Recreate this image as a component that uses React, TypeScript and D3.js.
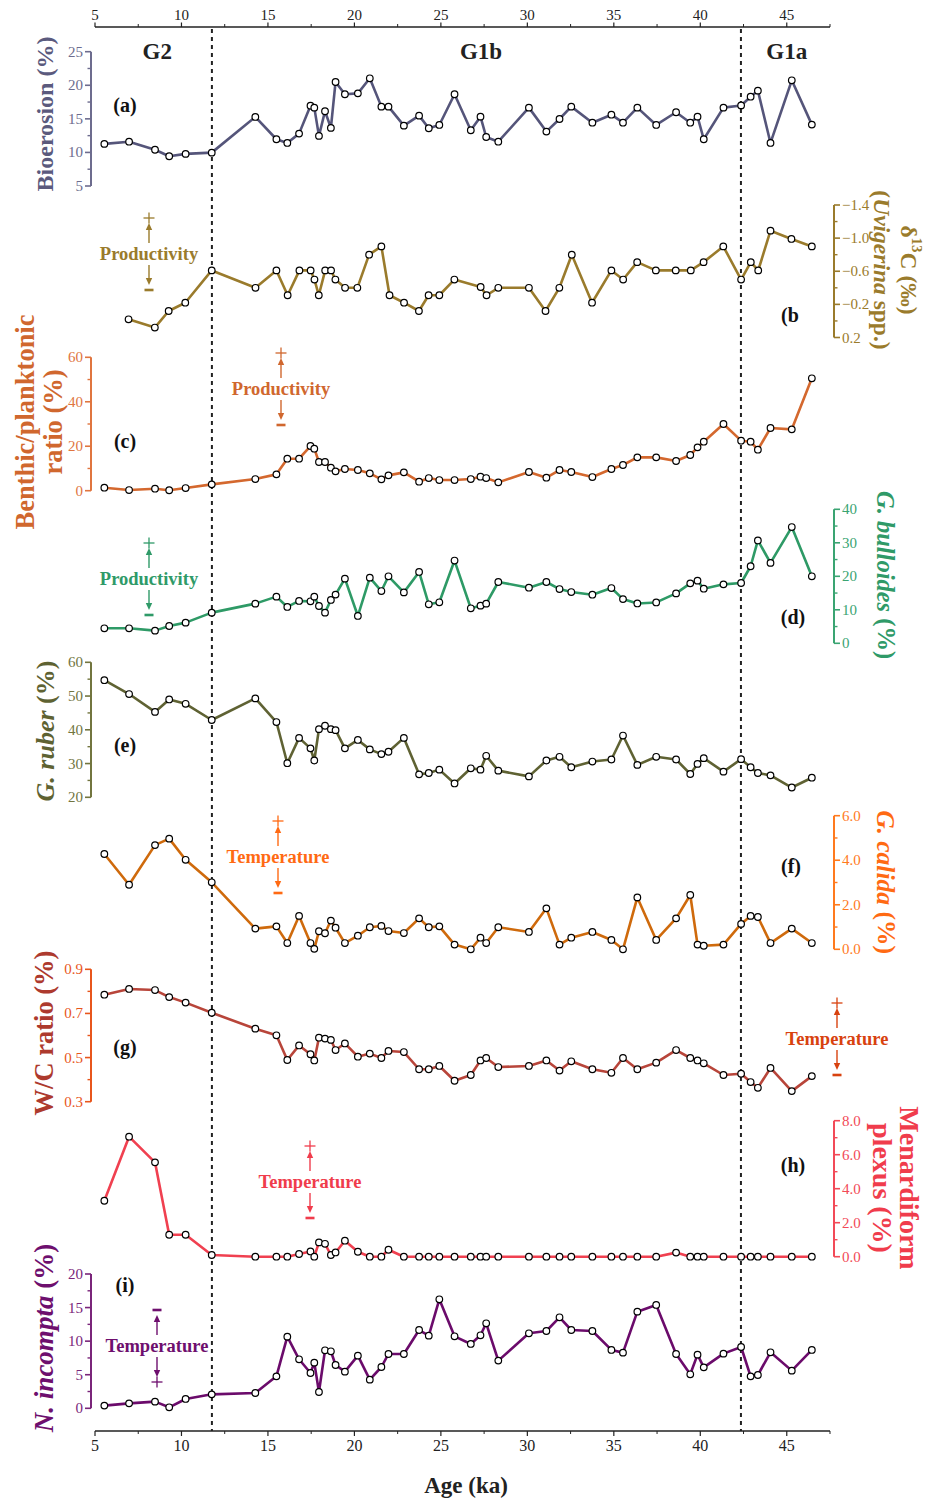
import React from 'react';
import * as d3 from 'd3';

// ---------------- DATA ----------------
// shared sample ages (ka) for panels a, c, d, e, f, g, h, i
const ages = [5.54, 6.97, 8.47, 9.29, 10.24, 11.75, 14.27, 15.49, 16.12, 16.8, 17.46, 17.68, 17.95, 18.3, 18.64, 18.91, 19.45, 20.2, 20.89, 21.56, 21.97, 22.86, 23.74, 24.3, 24.91, 25.79, 26.73, 27.29, 27.62, 28.32, 30.09, 31.1, 31.86, 32.54, 33.76, 34.86, 35.53, 36.36, 37.45, 38.6, 39.42, 39.84, 40.2, 41.34, 42.36, 42.91, 43.33, 44.06, 45.29, 46.45];
// sample ages (ka) for the d13C record
const agesB = [6.94, 8.46, 9.26, 10.22, 11.75, 14.28, 15.49, 16.14, 16.82, 17.47, 17.69, 17.94, 18.31, 18.65, 18.9, 19.46, 20.17, 20.85, 21.56, 22.03, 22.87, 23.73, 24.29, 24.91, 25.78, 27.3, 27.64, 28.32, 30.09, 31.05, 31.85, 32.57, 33.74, 34.86, 35.54, 36.35, 37.43, 38.58, 39.45, 40.19, 41.33, 42.36, 42.92, 43.35, 44.06, 45.27, 46.45];

const bioerosion = [11.27, 11.6, 10.4, 9.43, 9.78, 9.97, 15.28, 11.96, 11.41, 12.8, 16.96, 16.67, 12.46, 16.13, 13.65, 20.49, 18.66, 18.8, 21.04, 16.82, 16.82, 13.99, 15.48, 13.6, 14.09, 18.66, 13.3, 15.33, 12.3, 11.6, 16.67, 13.1, 14.98, 16.82, 14.43, 15.62, 14.43, 16.67, 14.09, 15.98, 14.43, 15.33, 11.96, 16.67, 17.0, 18.3, 19.2, 11.41, 20.74, 14.14];
const d13C = [-0.02, 0.08, -0.12, -0.22, -0.61, -0.40, -0.61, -0.31, -0.61, -0.61, -0.50, -0.31, -0.61, -0.61, -0.50, -0.40, -0.40, -0.80, -0.90, -0.31, -0.22, -0.12, -0.31, -0.31, -0.50, -0.41, -0.31, -0.40, -0.40, -0.12, -0.40, -0.80, -0.22, -0.61, -0.50, -0.71, -0.61, -0.61, -0.61, -0.71, -0.90, -0.50, -0.71, -0.61, -1.09, -0.99, -0.90];
const benthicPlanktonic = [1.35, 0.3, 0.9, 0.2, 1.2, 2.85, 5.25, 7.35, 14.4, 14.4, 20.1, 18.9, 12.9, 12.9, 10.35, 8.7, 9.75, 9.3, 7.8, 5.1, 6.9, 8.25, 4.05, 5.7, 4.8, 4.8, 5.25, 6.3, 5.7, 3.75, 8.4, 5.85, 9.3, 8.4, 6.15, 9.75, 11.55, 15.0, 15.0, 13.35, 16.05, 19.5, 22.05, 30.0, 22.5, 22.05, 18.45, 28.2, 27.6, 50.55];
const gBulloides = [4.48, 4.48, 3.78, 5.17, 6.17, 9.15, 11.84, 13.93, 10.85, 12.64, 12.54, 13.93, 11.14, 9.15, 12.94, 14.53, 19.3, 8.16, 19.6, 15.6, 20.0, 15.2, 21.3, 11.64, 12.24, 24.7, 10.45, 11.24, 11.84, 18.3, 16.6, 18.3, 16.2, 15.3, 14.5, 16.5, 13.2, 11.9, 12.2, 14.9, 17.9, 18.7, 16.3, 17.6, 18.0, 23.0, 30.7, 24.0, 34.7, 20.0];
const gRuber = [54.7, 50.6, 45.3, 49.0, 47.7, 42.9, 49.3, 42.3, 30.1, 37.6, 34.5, 30.9, 40.2, 41.2, 40.2, 39.9, 34.5, 37.0, 34.2, 32.8, 33.5, 37.6, 26.8, 27.2, 28.2, 24.1, 28.6, 28.2, 32.3, 27.9, 26.2, 30.9, 32.0, 28.9, 30.6, 31.2, 38.3, 29.6, 32.0, 31.2, 26.9, 29.9, 31.6, 27.6, 31.3, 28.9, 27.2, 26.5, 22.9, 25.8];
const gCalida = [4.28, 2.90, 4.68, 4.97, 4.02, 3.01, 0.93, 1.03, 0.28, 1.50, 0.28, 0.02, 0.81, 0.72, 1.29, 0.97, 0.28, 0.61, 0.99, 1.05, 0.82, 0.73, 1.39, 0.99, 1.03, 0.21, 0.0, 0.52, 0.28, 0.99, 0.78, 1.84, 0.21, 0.52, 0.78, 0.42, 0.0, 2.33, 0.42, 1.39, 2.44, 0.21, 0.16, 0.21, 1.14, 1.50, 1.45, 0.28, 0.93, 0.28];
const wcRatio = [0.785, 0.811, 0.806, 0.774, 0.749, 0.703, 0.631, 0.601, 0.489, 0.555, 0.515, 0.487, 0.590, 0.586, 0.580, 0.534, 0.564, 0.504, 0.518, 0.498, 0.530, 0.525, 0.447, 0.447, 0.462, 0.395, 0.421, 0.487, 0.498, 0.457, 0.462, 0.487, 0.441, 0.483, 0.447, 0.431, 0.498, 0.447, 0.477, 0.534, 0.498, 0.487, 0.474, 0.421, 0.427, 0.389, 0.363, 0.453, 0.348, 0.416];
const menardiform = [3.29, 7.06, 5.55, 1.29, 1.29, 0.10, 0, 0, 0, 0.16, 0.31, 0, 0.84, 0.76, 0.10, 0.25, 0.94, 0.29, 0, 0, 0.41, 0, 0, 0, 0, 0, 0, 0, 0, 0, 0, 0, 0, 0, 0, 0, 0, 0, 0, 0.24, 0, 0, 0, 0, 0, 0, 0, 0, 0, 0];
const nIncompta = [0.40, 0.74, 0.99, 0.15, 1.39, 2.08, 2.28, 4.76, 10.67, 7.30, 5.26, 6.80, 2.43, 8.64, 8.49, 6.45, 5.46, 7.84, 4.27, 6.15, 8.09, 8.09, 11.66, 10.82, 16.23, 10.72, 9.58, 10.87, 12.66, 7.10, 11.17, 11.51, 13.55, 11.66, 11.51, 8.69, 8.29, 14.39, 15.39, 8.09, 5.06, 7.99, 6.10, 8.14, 9.13, 4.76, 4.96, 8.34, 5.61, 8.69];

const ageDomain = [5, 47.5];
const ageMajorTicks = [5, 10, 15, 20, 25, 30, 35, 40, 45];
const ageMinorTicks = [7.5, 12.5, 17.5, 22.5, 27.5, 32.5, 37.5, 42.5, 47.5];
const zoneBoundaries = [11.76, 42.35];
const zoneLabels = ['G2', 'G1b', 'G1a'];
const zoneLabelAges = [8.6, 27.32, 45.0];

// ---------------- LAYOUT / STYLE ----------------
const FONT = "'Liberation Serif', 'Times New Roman', Times, serif";
const X0 = 95;
const X1 = 830;
const TOP_AXIS_Y = 27;
const BOTTOM_AXIS_Y = 1431;
const LEFT_AXIS_X = 91;
const RIGHT_AXIS_X = 834;

const x = d3.scaleLinear().domain(ageDomain).range([X0, X1]);

type Panel = {
  id: string;
  xs: number[];
  ys: number[];
  domain: [number, number];
  range: [number, number];
  side: 'left' | 'right';
  major: number;
  minor: number;
  fmt: (v: number) => string;
  line: string;
  axis: string;
  title: string;
  titleSize: number;
  titleLines: React.ReactNode[];
  titleX: number[];
  titleY: number;
  label: string;
  labelPos: [number, number];
  note?: { text: string; x: number; y: number; color: string; reversed?: boolean };
};

const fmt0 = d3.format('d');
const fmt1 = d3.format('.1f');

const panels: Panel[] = [
  {
    id: 'a', xs: ages, ys: bioerosion, domain: [5, 25], range: [186, 51.7], side: 'left', major: 5, minor: 2.5, fmt: fmt0,
    line: '#55557a', axis: '#6d6c8e', title: '#5b5a7d', titleSize: 24,
    titleLines: ['Bioerosion (%)'], titleX: [45], titleY: 114, label: '(a)', labelPos: [125, 105],
  },
  {
    id: 'b', xs: agesB, ys: d13C, domain: [-1.4, 0.2], range: [205, 337.5], side: 'right', major: 0.4, minor: 0.2, fmt: fmt1,
    line: '#9a7b2c', axis: '#9a7b2c', title: '#9a7b2c', titleSize: 23.5,
    titleLines: [
      <>δ<tspan fontSize="15" dy="-8">13</tspan><tspan dy="8">C (‰)</tspan></>,
      <>(<tspan fontStyle="italic">Uvigerina</tspan> spp.)</>,
    ],
    titleX: [909, 882], titleY: 270, label: '(b', labelPos: [790, 315],
    note: { text: 'Productivity', x: 149, y: 254, color: '#9a7b2c' },
  },
  {
    id: 'c', xs: ages, ys: benthicPlanktonic, domain: [0, 60], range: [490.7, 357.3], side: 'left', major: 20, minor: 10, fmt: fmt0,
    line: '#d4682e', axis: '#e0753f', title: '#d0672e', titleSize: 26.5,
    titleLines: ['Benthic/planktonic', 'ratio (%)'], titleX: [25, 53], titleY: 422, label: '(c)', labelPos: [125, 441],
    note: { text: 'Productivity', x: 281, y: 389, color: '#d0672e' },
  },
  {
    id: 'd', xs: ages, ys: gBulloides, domain: [0, 40], range: [643.3, 509.3], side: 'right', major: 10, minor: 5, fmt: fmt0,
    line: '#2e9a66', axis: '#3aa472', title: '#2f9a68', titleSize: 24.5,
    titleLines: [<><tspan fontStyle="italic">G. bulloides</tspan> (%)</>], titleX: [886], titleY: 575, label: '(d)', labelPos: [793, 617],
    note: { text: 'Productivity', x: 149, y: 579, color: '#2f9a68' },
  },
  {
    id: 'e', xs: ages, ys: gRuber, domain: [20, 60], range: [797.3, 662.3], side: 'left', major: 10, minor: 5, fmt: fmt0,
    line: '#5f6233', axis: '#72753f', title: '#5e6232', titleSize: 26,
    titleLines: [<><tspan fontStyle="italic">G. ruber</tspan> (%)</>], titleX: [45], titleY: 731, label: '(e)', labelPos: [125, 745],
  },
  {
    id: 'f', xs: ages, ys: gCalida, domain: [0, 6], range: [949.3, 815.7], side: 'right', major: 2, minor: 1, fmt: fmt1,
    line: '#cf6a0c', axis: '#ff7a1e', title: '#ff6a13', titleSize: 25.5,
    titleLines: [<><tspan fontStyle="italic">G. calida</tspan> (%)</>], titleX: [886], titleY: 882, label: '(f)', labelPos: [791, 866],
    note: { text: 'Temperature', x: 278, y: 857, color: '#ff6a13' },
  },
  {
    id: 'g', xs: ages, ys: wcRatio, domain: [0.3, 0.9], range: [1101.7, 969.3], side: 'left', major: 0.2, minor: 0.1, fmt: fmt1,
    line: '#b8453a', axis: '#e8561c', title: '#ad3a2e', titleSize: 26.5,
    titleLines: ['W/C ratio (%)'], titleX: [44], titleY: 1033, label: '(g)', labelPos: [125, 1047],
    note: { text: 'Temperature', x: 837, y: 1039, color: '#d8420f' },
  },
  {
    id: 'h', xs: ages, ys: menardiform, domain: [0, 8], range: [1256.7, 1120.7], side: 'right', major: 2, minor: 1, fmt: fmt1,
    line: '#f04050', axis: '#f24a58', title: '#f03c4c', titleSize: 28,
    titleLines: ['Menardiform', 'plexus (%)'], titleX: [909, 882], titleY: 1188, label: '(h)', labelPos: [793, 1165],
    note: { text: 'Temperature', x: 310, y: 1182, color: '#f03c4c' },
  },
  {
    id: 'i', xs: ages, ys: nIncompta, domain: [0, 20], range: [1408.3, 1274], side: 'left', major: 5, minor: 2.5, fmt: fmt0,
    line: '#6b0b6b', axis: '#7a257a', title: '#6e0f6e', titleSize: 27,
    titleLines: [<><tspan fontStyle="italic">N. incompta</tspan> (%)</>], titleX: [44], titleY: 1338, label: '(i)', labelPos: [125, 1285],
    note: { text: 'Temperature', x: 157, y: 1346, color: '#6e0f6e', reversed: true },
  },
];

function rangeTicks(lo: number, hi: number, step: number) {
  const n = Math.round((hi - lo) / step);
  return d3.range(n + 1).map((i) => +(lo + i * step).toFixed(6));
}

function Note({ n }: { n: NonNullable<Panel['note']> }) {
  const { x: cx, y: cy, color, reversed } = n;
  const topSign = reversed ? 'minus' : 'plus';
  const botSign = reversed ? 'plus' : 'minus';
  const sign = (kind: string, yy: number) =>
    kind === 'plus' ? (
      <g>
        <line x1={cx - 5.5} x2={cx + 5.5} y1={yy} y2={yy} stroke={color} strokeWidth={1.3} />
        <line x1={cx} x2={cx} y1={yy - 5.5} y2={yy + 5.5} stroke={color} strokeWidth={1.3} />
      </g>
    ) : (
      <rect x={cx - 4.5} y={yy - 1.3} width={9} height={2.6} fill={color} />
    );
  return (
    <g>
      {sign(topSign, cy - 36)}
      <line x1={cx} x2={cx} y1={cy - 11} y2={cy - 25} stroke={color} strokeWidth={1.4} />
      <path d={`M${cx - 3.2},${cy - 24} L${cx},${cy - 31} L${cx + 3.2},${cy - 24} Z`} fill={color} />
      <text x={cx} y={cy} textAnchor="middle" dominantBaseline="central" fontFamily={FONT} fontWeight="bold" fontSize={18.5} fill={color}>
        {n.text}
      </text>
      <line x1={cx} x2={cx} y1={cy + 11} y2={cy + 25} stroke={color} strokeWidth={1.4} />
      <path d={`M${cx - 3.2},${cy + 24} L${cx},${cy + 31} L${cx + 3.2},${cy + 24} Z`} fill={color} />
      {sign(botSign, cy + 36)}
    </g>
  );
}

function PanelView({ p }: { p: Panel }) {
  const y = d3.scaleLinear().domain(p.domain).range(p.range);
  const majors = rangeTicks(p.domain[0], p.domain[1], p.major);
  const minors = rangeTicks(p.domain[0], p.domain[1], p.minor).filter(
    (v) => !majors.some((m) => Math.abs(m - v) < 1e-6)
  );
  const ax = p.side === 'left' ? LEFT_AXIS_X : RIGHT_AXIS_X;
  const dir = p.side === 'left' ? -1 : 1;
  const pts = p.xs.map((a, i) => [x(a), y(p.ys[i])] as [number, number]);
  const lineGen = d3.line<[number, number]>().x((d) => d[0]).y((d) => d[1]).curve(d3.curveLinear);
  const rot = p.side === 'left' ? -90 : 90;
  return (
    <g>
      {/* y axis */}
      <line x1={ax} x2={ax} y1={p.range[0]} y2={p.range[1]} stroke={p.axis} strokeWidth={2} />
      {majors.map((v) => (
        <g key={'M' + v}>
          <line x1={ax} x2={ax + dir * 6} y1={y(v)} y2={y(v)} stroke={p.axis} strokeWidth={1.6} />
          <text
            x={ax + dir * 8}
            y={y(v)}
            textAnchor={p.side === 'left' ? 'end' : 'start'}
            dominantBaseline="central"
            fontFamily={FONT}
            fontSize={15}
            fill={p.axis}
          >
            {p.fmt(v)}
          </text>
        </g>
      ))}
      {minors.map((v) => (
        <line key={'m' + v} x1={ax} x2={ax + dir * 3.5} y1={y(v)} y2={y(v)} stroke={p.axis} strokeWidth={1.4} />
      ))}
      {/* title */}
      {p.titleLines.map((t, i) => (
        <text
          key={'t' + i}
          transform={`translate(${p.titleX[i]},${p.titleY}) rotate(${rot})`}
          textAnchor="middle"
          dominantBaseline="central"
          fontFamily={FONT}
          fontWeight="bold"
          fontSize={p.titleSize}
          fill={p.title}
        >
          {t}
        </text>
      ))}
      {/* series */}
      <path d={lineGen(pts) || ''} fill="none" stroke={p.line} strokeWidth={2.6} strokeLinejoin="round" />
      {pts.map((d, i) => (
        <circle key={i} cx={d[0]} cy={d[1]} r={3.3} fill="#fff" stroke="#000" strokeWidth={1.2} />
      ))}
      <text
        x={p.labelPos[0]}
        y={p.labelPos[1]}
        textAnchor="middle"
        dominantBaseline="central"
        fontFamily={FONT}
        fontWeight="bold"
        fontSize={20}
        fill="#111"
      >
        {p.label}
      </text>
      {p.note && <Note n={p.note} />}
    </g>
  );
}

export default function App() {
  return (
    <div style={{ position: 'absolute', left: 0, top: 0 }}>
      <svg width={930} height={1500} style={{ display: 'block', background: '#fff' }}>
        {/* top axis */}
        <line x1={X0} x2={X1} y1={TOP_AXIS_Y} y2={TOP_AXIS_Y} stroke="#222" strokeWidth={1.5} />
        {ageMajorTicks.map((t) => (
          <g key={'ta' + t}>
            <line x1={x(t)} x2={x(t)} y1={TOP_AXIS_Y} y2={TOP_AXIS_Y - 4.5} stroke="#222" strokeWidth={1.2} />
            <text x={x(t)} y={TOP_AXIS_Y - 7} textAnchor="middle" fontFamily={FONT} fontSize={15} fill="#222">
              {t}
            </text>
          </g>
        ))}
        {ageMinorTicks.map((t) => (
          <line key={'tm' + t} x1={x(t)} x2={x(t)} y1={TOP_AXIS_Y} y2={TOP_AXIS_Y - 3} stroke="#222" strokeWidth={1} />
        ))}
        {/* bottom axis */}
        <line x1={X0} x2={X1} y1={BOTTOM_AXIS_Y} y2={BOTTOM_AXIS_Y} stroke="#222" strokeWidth={1.5} />
        {ageMajorTicks.map((t) => (
          <g key={'ba' + t}>
            <line x1={x(t)} x2={x(t)} y1={BOTTOM_AXIS_Y} y2={BOTTOM_AXIS_Y + 5} stroke="#222" strokeWidth={1.2} />
            <text x={x(t)} y={BOTTOM_AXIS_Y + 20} textAnchor="middle" fontFamily={FONT} fontSize={16} fill="#222">
              {t}
            </text>
          </g>
        ))}
        {ageMinorTicks.map((t) => (
          <line key={'bm' + t} x1={x(t)} x2={x(t)} y1={BOTTOM_AXIS_Y} y2={BOTTOM_AXIS_Y + 3} stroke="#222" strokeWidth={1} />
        ))}
        <text x={466} y={1493} textAnchor="middle" fontFamily={FONT} fontWeight="bold" fontSize={23} fill="#222">
          Age (ka)
        </text>
        {/* zone boundaries */}
        {zoneBoundaries.map((b) => (
          <line
            key={'z' + b}
            x1={x(b)}
            x2={x(b)}
            y1={TOP_AXIS_Y + 2}
            y2={BOTTOM_AXIS_Y}
            stroke="#222"
            strokeWidth={2}
            strokeDasharray="4,4"
          />
        ))}
        {zoneLabels.map((z, i) => (
          <text key={z} x={x(zoneLabelAges[i])} y={59} textAnchor="middle" fontFamily={FONT} fontWeight="bold" fontSize={23} fill="#222">
            {z}
          </text>
        ))}
        {panels.map((p) => (
          <PanelView key={p.id} p={p} />
        ))}
      </svg>
    </div>
  );
}
